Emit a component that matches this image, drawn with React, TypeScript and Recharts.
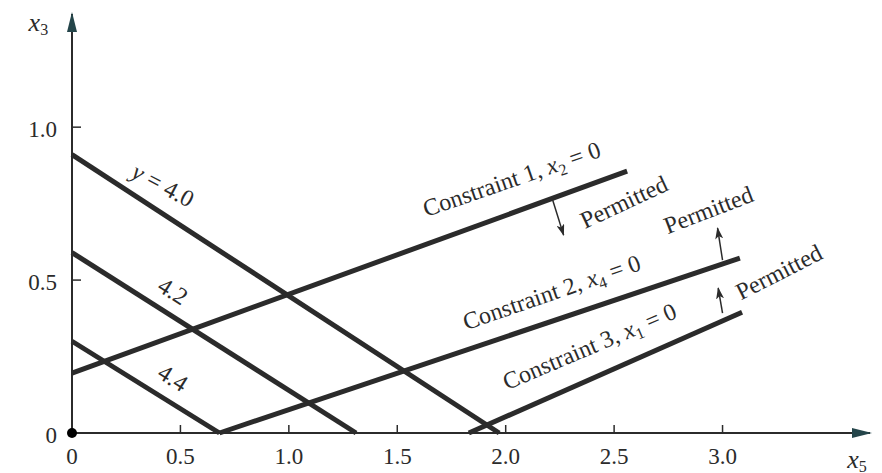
import React from "react";
import { LineChart, Line, XAxis, YAxis, ReferenceDot } from "recharts";

const FONT = '"Liberation Serif", "Times New Roman", serif';
const INK = "#2b2b2b";

// axes
const xTicks = [0, 0.5, 1.0, 1.5, 2.0, 2.5, 3.0];
const xTickLabels = ["0", "0.5", "1.0", "1.5", "2.0", "2.5", "3.0"];
const yTicks = [0, 0.5, 1.0];
const yTickLabels = ["0", "0.5", "1.0"];
const xAxisLine = [{ x: 0, y: 0 }, { x: 3.68, y: 0 }];
const yAxisLine = [{ x: 0, y: 0 }, { x: 0, y: 1.37 }];

// objective contours y = const
const objective40 = [{ x: 0, y: 0.91 }, { x: 1.97, y: 0 }];
const objective42 = [{ x: 0, y: 0.59 }, { x: 1.31, y: 0 }];
const objective44 = [{ x: 0, y: 0.3 }, { x: 0.68, y: 0 }];

// constraints
const constraint1 = [{ x: 0, y: 0.196 }, { x: 2.56, y: 0.856 }];
const constraint2 = [{ x: 0.68, y: 0 }, { x: 3.08, y: 0.572 }];
const constraint3 = [{ x: 1.83, y: 0 }, { x: 3.09, y: 0.395 }];

// "permitted" direction arrows
const permitted1 = [{ x: 2.217, y: 0.761 }, { x: 2.267, y: 0.647 }];
const permitted2 = [{ x: 3.0, y: 0.565 }, { x: 2.977, y: 0.67 }];
const permitted3 = [{ x: 3.0, y: 0.392 }, { x: 2.98, y: 0.474 }];

const Sub = ({ children }: { children: React.ReactNode }) => (
  <tspan fontSize={16} dy={7}>
    {children}
  </tspan>
);

function note(x: number, y: number, angle: number, content: React.ReactNode, size = 24) {
  return (
    <ReferenceDot
      key={`${x}-${y}`}
      x={x}
      y={y}
      r={0}
      ifOverflow="visible"
      shape={(p: any) => (
        <text
          x={p.cx}
          y={p.cy}
          transform={`rotate(${angle} ${p.cx} ${p.cy})`}
          textAnchor="middle"
          dominantBaseline="central"
          fontFamily={FONT}
          fontSize={size}
          fill={INK}
        >
          {content}
        </text>
      )}
    />
  );
}

const XTick = (p: any) => {
  const i = xTicks.indexOf(p.payload.value);
  return (
    <g>
      {p.payload.value !== 0 && (
        <line x1={p.x} y1={p.y} x2={p.x} y2={p.y - 8} stroke={INK} strokeWidth={1.5} />
      )}
      <text x={p.x} y={p.y + 31} textAnchor="middle" fontFamily={FONT} fontSize={23} fill={INK}>
        {xTickLabels[i]}
      </text>
    </g>
  );
};

const YTick = (p: any) => {
  const i = yTicks.indexOf(p.payload.value);
  return (
    <g>
      {p.payload.value !== 0 && (
        <line x1={p.x} y1={p.y} x2={p.x + 9} y2={p.y} stroke={INK} strokeWidth={1.5} />
      )}
      <text
        x={p.x - 15}
        y={p.y + 2}
        textAnchor="end"
        dominantBaseline="central"
        fontFamily={FONT}
        fontSize={23}
        fill={INK}
      >
        {yTickLabels[i]}
      </text>
    </g>
  );
};

const seg = (data: { x: number; y: number }[], width: number, marker?: string) => (
  <Line
    data={data}
    dataKey="y"
    type="linear"
    stroke={INK}
    strokeWidth={width}
    dot={false}
    activeDot={false}
    markerEnd={marker ? `url(#${marker})` : undefined}
    isAnimationActive={false}
  />
);

export default function App() {
  return (
    <div style={{ position: "absolute", left: 0, top: 0, background: "#fff" }}>
      <style>{`body{margin:0}`}</style>
      <svg width={0} height={0} style={{ position: "absolute" }}>
        <defs>
          <marker id="axisHead" viewBox="0 0 20 10" refX={18} refY={5} markerWidth={20} markerHeight={10} markerUnits="userSpaceOnUse" orient="auto">
            <path d="M0,0 L20,5 L0,10 z" fill="#24454a" />
          </marker>
          <marker id="smallHead" viewBox="0 0 12 8" refX={11} refY={4} markerWidth={12} markerHeight={8} markerUnits="userSpaceOnUse" orient="auto">
            <path d="M0,0 L12,4 L0,8 L3,4 z" fill={INK} />
          </marker>
        </defs>
      </svg>
      <LineChart width={882} height={473} margin={{ top: 14, right: 12, bottom: 0, left: 0 }}>
        <XAxis
          type="number"
          dataKey="x"
          domain={[0, 3.68]}
          ticks={xTicks}
          axisLine={false}
          tickLine={false}
          tickSize={0}
          tickMargin={0}
          height={40}
          tick={<XTick />}
          interval={0}
        />
        <YAxis
          type="number"
          domain={[0, 1.37]}
          ticks={yTicks}
          axisLine={false}
          tickLine={false}
          tickSize={0}
          tickMargin={0}
          width={72}
          tick={<YTick />}
          interval={0}
        />
        {seg(xAxisLine, 2, "axisHead")}
        {seg(yAxisLine, 2, "axisHead")}
        {seg(objective40, 5)}
        {seg(objective42, 5)}
        {seg(objective44, 5)}
        {seg(constraint1, 5)}
        {seg(constraint2, 5)}
        {seg(constraint3, 5)}
        {seg(permitted1, 1.5, "smallHead")}
        {seg(permitted2, 1.5, "smallHead")}
        {seg(permitted3, 1.5, "smallHead")}
        <ReferenceDot x={0} y={0} r={5} fill="#000" stroke="none" ifOverflow="visible" />
        {note(0.42, 0.81, 28, <><tspan fontStyle="italic">y</tspan> = 4.0</>)}
        {note(0.465, 0.464, 32, "4.2")}
        {note(0.465, 0.18, 32, "4.4")}
        {note(2.028, 0.83, -19, <>Constraint 1,  <tspan fontStyle="italic">x</tspan><Sub>2</Sub><tspan dy={-7}> = 0</tspan></>)}
        {note(2.212, 0.46, -19, <>Constraint 2, <tspan fontStyle="italic">x</tspan><Sub>4</Sub><tspan dy={-7}> = 0</tspan></>)}
        {note(2.387, 0.283, -23, <>Constraint 3, <tspan fontStyle="italic">x</tspan><Sub>1</Sub><tspan dy={-7}> = 0</tspan></>)}
        {note(2.545, 0.755, -25, "Permitted")}
        {note(2.935, 0.729, -21, "Permitted")}
        {note(3.26, 0.526, -27, "Permitted")}
        {note(-0.155, 1.345, 0, <><tspan fontStyle="italic">x</tspan><Sub>3</Sub></>, 26)}
        {note(3.62, -0.085, 0, <><tspan fontStyle="italic">x</tspan><Sub>5</Sub></>, 26)}
      </LineChart>
    </div>
  );
}
